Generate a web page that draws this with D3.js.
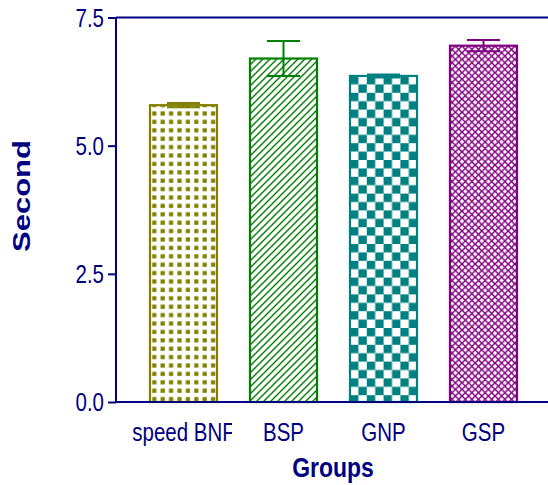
<!DOCTYPE html>
<html>
<head>
<meta charset="utf-8">
<script src="https://cdn.jsdelivr.net/npm/d3@7"></script>
<style>
  body { margin: 0; background: #fff; }
  svg text { font-family: "Liberation Sans", Arial, sans-serif; fill: #000080; }
</style>
</head>
<body>
<div id="plot"></div>
<script>
const groups = ["speed BNF", "BSP", "GNP", "GSP"];
const means = [5.79, 6.70, 6.36, 6.95];
const errors = [0.04, 0.34, 0.03, 0.11];
const yTicks = [0, 2.5, 5.0, 7.5];
const colors = ["#808000", "#008000", "#008080", "#800080"];

const width = 548;
const height = 485;
const navy = "#000080";
const narrow = 0.82; // condensed look of the original font

const svg = d3
  .select("#plot")
  .append("svg")
  .attr("width", width)
  .attr("height", height);

const defs = svg.append("defs");

// dotted squares (speed BNF)
const p0 = defs.append("pattern")
  .attr("id", "pat0").attr("patternUnits", "userSpaceOnUse")
  .attr("x", 150).attr("y", 0)
  .attr("width", 8.4).attr("height", 8.4);
p0.append("rect").attr("x", 2.2).attr("y", 2.2).attr("width", 4.2).attr("height", 4.2).attr("fill", colors[0]);

// diagonal hatch (BSP)
const p1 = defs.append("pattern")
  .attr("id", "pat1").attr("patternUnits", "userSpaceOnUse")
  .attr("width", 7).attr("height", 7);
p1.append("path").attr("d", "M-1,8 L8,-1 M-1,1 L1,-1 M6,8 L8,6")
  .attr("stroke", colors[1]).attr("stroke-width", 1.4);

// checkerboard (GNP)
const p2 = defs.append("pattern")
  .attr("id", "pat2").attr("patternUnits", "userSpaceOnUse")
  .attr("x", 350).attr("y", 76)
  .attr("width", 16.8).attr("height", 16.8);
p2.append("rect").attr("x", 0).attr("y", 0).attr("width", 8.4).attr("height", 8.4).attr("fill", colors[2]);
p2.append("rect").attr("x", 8.4).attr("y", 8.4).attr("width", 8.4).attr("height", 8.4).attr("fill", colors[2]);

// crosshatch (GSP)
const p3 = defs.append("pattern")
  .attr("id", "pat3").attr("patternUnits", "userSpaceOnUse")
  .attr("width", 6.6).attr("height", 6.6);
p3.append("path").attr("d", "M-1,7.6 L7.6,-1 M-1,-1 L7.6,7.6")
  .attr("stroke", colors[3]).attr("stroke-width", 1.5);

const x = d3.scaleBand()
  .domain(groups)
  .range([133.5, 533.5])
  .paddingInner(0.33)
  .paddingOuter(0.165);

const y = d3.scaleLinear()
  .domain([0, 7.5])
  .range([402, 17.5]);

const axisX = 116;

// bars
svg.selectAll(".bar")
  .data(groups)
  .enter()
  .append("rect")
  .attr("class", "bar")
  .attr("x", (d) => x(d))
  .attr("y", (d, i) => y(means[i]))
  .attr("width", x.bandwidth())
  .attr("height", (d, i) => y(0) - y(means[i]))
  .attr("fill", (d, i) => `url(#pat${i})`)
  .attr("stroke", (d, i) => colors[i])
  .attr("stroke-width", 2.2);

// error bars
const capW = 33;
const err = svg.selectAll(".err")
  .data(groups)
  .enter()
  .append("g")
  .attr("class", "err")
  .attr("stroke", (d, i) => colors[i])
  .attr("stroke-width", 2);

err.append("line")
  .attr("x1", (d) => x(d) + x.bandwidth() / 2)
  .attr("x2", (d) => x(d) + x.bandwidth() / 2)
  .attr("y1", (d, i) => y(means[i] - errors[i]))
  .attr("y2", (d, i) => y(means[i] + errors[i]));
err.append("line")
  .attr("x1", (d) => x(d) + x.bandwidth() / 2 - capW / 2)
  .attr("x2", (d) => x(d) + x.bandwidth() / 2 + capW / 2)
  .attr("y1", (d, i) => y(means[i] + errors[i]))
  .attr("y2", (d, i) => y(means[i] + errors[i]));
err.append("line")
  .attr("x1", (d) => x(d) + x.bandwidth() / 2 - capW / 2)
  .attr("x2", (d) => x(d) + x.bandwidth() / 2 + capW / 2)
  .attr("y1", (d, i) => y(means[i] - errors[i]))
  .attr("y2", (d, i) => y(means[i] - errors[i]));

// y axis
const yAxis = d3.axisLeft(y)
  .tickValues(yTicks)
  .tickFormat(d3.format(".1f"))
  .tickSize(8)
  .tickPadding(4);

const gy = svg.append("g")
  .attr("transform", `translate(${axisX}, 0)`)
  .call(yAxis);
gy.select(".domain").remove();
gy.selectAll(".tick line").attr("stroke", navy).attr("stroke-width", 2);
gy.selectAll(".tick text")
  .attr("x", null)
  .attr("transform", `translate(-12, 0) scale(${narrow}, 1)`)
  .attr("fill", navy)
  .style("font-size", "25px")
  .attr("dy", "0.34em");

gy.append("line")
  .attr("x1", 0).attr("x2", 0)
  .attr("y1", y(7.5)).attr("y2", y(0))
  .attr("stroke", navy).attr("stroke-width", 2);

// top and bottom frame lines
svg.append("line")
  .attr("x1", axisX).attr("x2", width)
  .attr("y1", y(7.5)).attr("y2", y(7.5))
  .attr("stroke", navy).attr("stroke-width", 2);
svg.append("line")
  .attr("x1", axisX).attr("x2", width)
  .attr("y1", y(0)).attr("y2", y(0))
  .attr("stroke", navy).attr("stroke-width", 2);

// x labels, first one clipped at its right edge
defs.append("clipPath").attr("id", "clipLbl")
  .append("rect").attr("x", 120).attr("y", 400).attr("width", 112).attr("height", 60);

svg.selectAll(".xlbl")
  .data(groups)
  .enter()
  .append("g")
  .attr("class", "xlbl")
  .attr("clip-path", (d, i) => (i === 0 ? "url(#clipLbl)" : null))
  .append("text")
  .attr("transform", (d) => `translate(${x(d) + x.bandwidth() / 2}, 441) scale(${narrow}, 1)`)
  .attr("text-anchor", "middle")
  .style("font-size", "25px")
  .text((d) => d);

// axis titles
svg.append("text")
  .attr("transform", `translate(333, 477) scale(${narrow}, 1)`)
  .attr("text-anchor", "middle")
  .style("font-size", "28px")
  .style("font-weight", "bold")
  .text("Groups");

svg.append("text")
  .attr("transform", "translate(30, 196) rotate(-90)")
  .attr("text-anchor", "middle")
  .style("font-size", "24px")
  .style("font-weight", "bold")
  .attr("textLength", 112)
  .attr("lengthAdjust", "spacingAndGlyphs")
  .text("Second");
</script>
</body>
</html>
